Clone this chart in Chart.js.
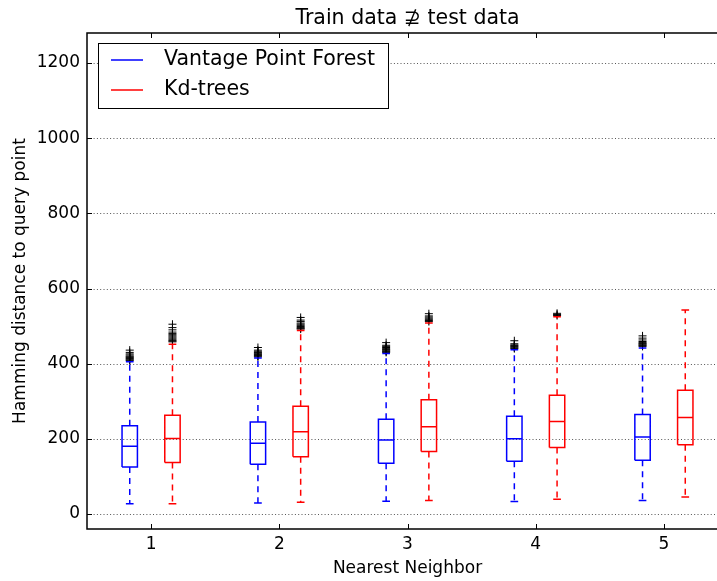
<!DOCTYPE html>
<html>
<head>
<meta charset="utf-8">
<script src="https://cdn.jsdelivr.net/npm/chart.js@4/dist/chart.umd.min.js"></script>
<style>
    body { margin: 0; background: #fff; overflow: hidden; }
    #wrap { width: 717px; height: 581px; overflow: hidden; }
</style>
</head>
<body>
<div id="wrap"><canvas id="boxChart" width="740" height="581"></canvas></div>
<script>
const xTicks = [1, 2, 3, 4, 5];
const yTicks = [0, 200, 400, 600, 800, 1000, 1200];

// Vantage Point Forest
const vpfLow = [27, 29, 34, 33, 36];
const vpfQ1 = [125, 132, 135, 140, 143];
const vpfMed = [180, 188, 197, 200, 205];
const vpfQ3 = [235, 245, 252, 260, 265];
const vpfHigh = [405, 415, 427, 437, 442];
const vpfOutliers = [
    [408, 410, 412, 414, 416, 418, 420, 423, 426, 430, 436],
    [418, 420, 422, 424, 426, 428, 430, 433, 436, 443],
    [430, 432, 434, 436, 438, 440, 443, 446, 449, 456],
    [440, 442, 444, 446, 448, 450, 453, 461],
    [446, 448, 450, 452, 454, 456, 459, 463, 468, 474]
];

// Kd-trees
const kdLow = [27, 31, 36, 39, 45];
const kdQ1 = [137, 152, 166, 177, 184];
const kdMed = [201, 219, 232, 246, 257];
const kdQ3 = [263, 287, 304, 316, 329];
const kdHigh = [452, 488, 508, 525, 543];
const kdOutliers = [
    [458, 460, 462, 465, 468, 471, 474, 477, 480, 484, 490, 496, 505],
    [492, 494, 496, 499, 502, 505, 508, 512, 516, 523],
    [512, 515, 518, 521, 524, 527, 533],
    [528, 531, 534],
    []
];

const chartTitle = 'Train data \u2289 test data';
const legendItems = [['Vantage Point Forest', '#0000ff'], ['Kd-trees', '#ff0000']];

const FONT = 'DejaVu Sans';
const BOX_HALF = 0.06;
const CAP_HALF = 0.03;

function boxSeries(offset, low, q1, med, q3, high, outliers, color, label) {
    const box = [], whisk = [], caps = [], fliers = [];
    xTicks.forEach((t, i) => {
        const x = t + offset;
        box.push({x: x - BOX_HALF, y: q1[i]}, {x: x + BOX_HALF, y: q1[i]},
                 {x: x + BOX_HALF, y: q3[i]}, {x: x - BOX_HALF, y: q3[i]},
                 {x: x - BOX_HALF, y: q1[i]}, {x: x, y: null});
        box.push({x: x - BOX_HALF, y: med[i]}, {x: x + BOX_HALF, y: med[i]}, {x: x, y: null});
        whisk.push({x: x, y: q3[i]}, {x: x, y: high[i]}, {x: x, y: null});
        whisk.push({x: x, y: q1[i]}, {x: x, y: low[i]}, {x: x, y: null});
        caps.push({x: x - CAP_HALF, y: high[i]}, {x: x + CAP_HALF, y: high[i]}, {x: x, y: null});
        caps.push({x: x - CAP_HALF, y: low[i]}, {x: x + CAP_HALF, y: low[i]}, {x: x, y: null});
        outliers[i].forEach(v => fliers.push({x: x, y: v}));
    });
    const line = {showLine: true, pointRadius: 0, borderColor: color, borderWidth: 1.5, spanGaps: false, fill: false};
    return [
        Object.assign({label: label, data: box}, line),
        Object.assign({label: label + ' whiskers', data: whisk, borderDash: [6, 5]}, line),
        Object.assign({label: label + ' caps', data: caps}, line),
        {label: label + ' fliers', data: fliers, showLine: false, pointStyle: 'cross',
         pointRadius: 4, borderColor: '#000', borderWidth: 1, backgroundColor: '#000'}
    ];
}

const framePlugin = {
    id: 'frame',
    beforeDatasetsDraw(chart) {
        const {ctx, chartArea: a, scales: {y}} = chart;
        ctx.save();
        ctx.strokeStyle = '#555';
        ctx.lineWidth = 1;
        ctx.setLineDash([1, 2.3]);
        yTicks.forEach(v => {
            const py = Math.round(y.getPixelForValue(v)) + 0.5;
            ctx.beginPath();
            ctx.moveTo(a.left, py);
            ctx.lineTo(a.right, py);
            ctx.stroke();
        });
        ctx.restore();
    },
    afterDatasetsDraw(chart) {
        const {ctx, chartArea: a, scales: {x, y}} = chart;
        ctx.save();
        ctx.strokeStyle = '#000';
        ctx.lineWidth = 1;
        ctx.beginPath();
        xTicks.forEach(v => {
            const px = Math.round(x.getPixelForValue(v)) + 0.5;
            ctx.moveTo(px, a.bottom); ctx.lineTo(px, a.bottom - 5);
            ctx.moveTo(px, a.top); ctx.lineTo(px, a.top + 5);
        });
        yTicks.forEach(v => {
            const py = Math.round(y.getPixelForValue(v)) + 0.5;
            ctx.moveTo(a.left, py); ctx.lineTo(a.left + 5, py);
            ctx.moveTo(a.right, py); ctx.lineTo(a.right - 5, py);
        });
        ctx.stroke();
        ctx.lineWidth = 1.5;
        ctx.strokeRect(a.left, a.top, a.right - a.left, a.bottom - a.top);
        ctx.restore();
    },
    afterDraw(chart) {
        const {ctx, chartArea: a} = chart;
        ctx.save();
        // title centred over the axes
        ctx.fillStyle = '#000';
        ctx.font = '20.5px "' + FONT + '"';
        ctx.textAlign = 'center';
        ctx.textBaseline = 'middle';
        ctx.fillText(chartTitle, (a.left + a.right) / 2, 19);

        // legend
        ctx.textAlign = 'left';
        ctx.fillStyle = '#fff';
        ctx.fillRect(98.5, 43.5, 290, 65);
        ctx.strokeStyle = '#000';
        ctx.lineWidth = 1;
        ctx.strokeRect(98.5, 43.5, 290, 65);
        legendItems.forEach((it, i) => {
            const yy = 60 + i * 30;
            ctx.strokeStyle = it[1];
            ctx.lineWidth = 1.5;
            ctx.beginPath();
            ctx.moveTo(111, yy);
            ctx.lineTo(143, yy);
            ctx.stroke();
            ctx.fillStyle = '#000';
            ctx.fillText(it[0], 164, yy);
        });
        ctx.restore();
    }
};

window.onload = () => {
    const datasets = [].concat(
        boxSeries(-1 / 6, vpfLow, vpfQ1, vpfMed, vpfQ3, vpfHigh, vpfOutliers, '#0000ff', legendItems[0][0]),
        boxSeries(1 / 6, kdLow, kdQ1, kdMed, kdQ3, kdHigh, kdOutliers, '#ff0000', legendItems[1][0])
    );

    new Chart(document.getElementById('boxChart').getContext('2d'), {
        type: 'scatter',
        data: { datasets: datasets },
        plugins: [framePlugin],
        options: {
            responsive: false,
            animation: false,
            layout: { padding: { left: 0, right: 12, top: 33, bottom: 0 } },
            plugins: {
                legend: { display: false },
                tooltip: { enabled: false },
                title: { display: false }
            },
            scales: {
                x: {
                    type: 'linear',
                    min: 0.5,
                    max: 5.5,
                    afterBuildTicks: s => { s.ticks = xTicks.map(v => ({ value: v })); },
                    afterFit: s => { s.height = 52; },
                    grid: { display: false, drawTicks: false },
                    border: { display: false },
                    ticks: { color: '#000', padding: 5, font: { family: FONT, size: 17 }, callback: v => String(v) },
                    title: {
                        display: true,
                        text: 'Nearest Neighbor',
                        color: '#000',
                        font: { family: FONT, size: 17 },
                        padding: { top: 0, bottom: 2 }
                    }
                },
                y: {
                    min: -40,
                    max: 1280,
                    afterBuildTicks: s => { s.ticks = yTicks.map(v => ({ value: v })); },
                    afterFit: s => { s.width = 87; },
                    grid: { display: false, drawTicks: false },
                    border: { display: false },
                    ticks: { color: '#000', padding: 7, font: { family: FONT, size: 17 }, callback: v => String(v) },
                    title: {
                        display: true,
                        text: 'Hamming distance to query point',
                        color: '#000',
                        font: { family: FONT, size: 17 },
                        padding: { top: 10, bottom: 0 }
                    }
                }
            }
        }
    });
};
</script>
</body>
</html>
